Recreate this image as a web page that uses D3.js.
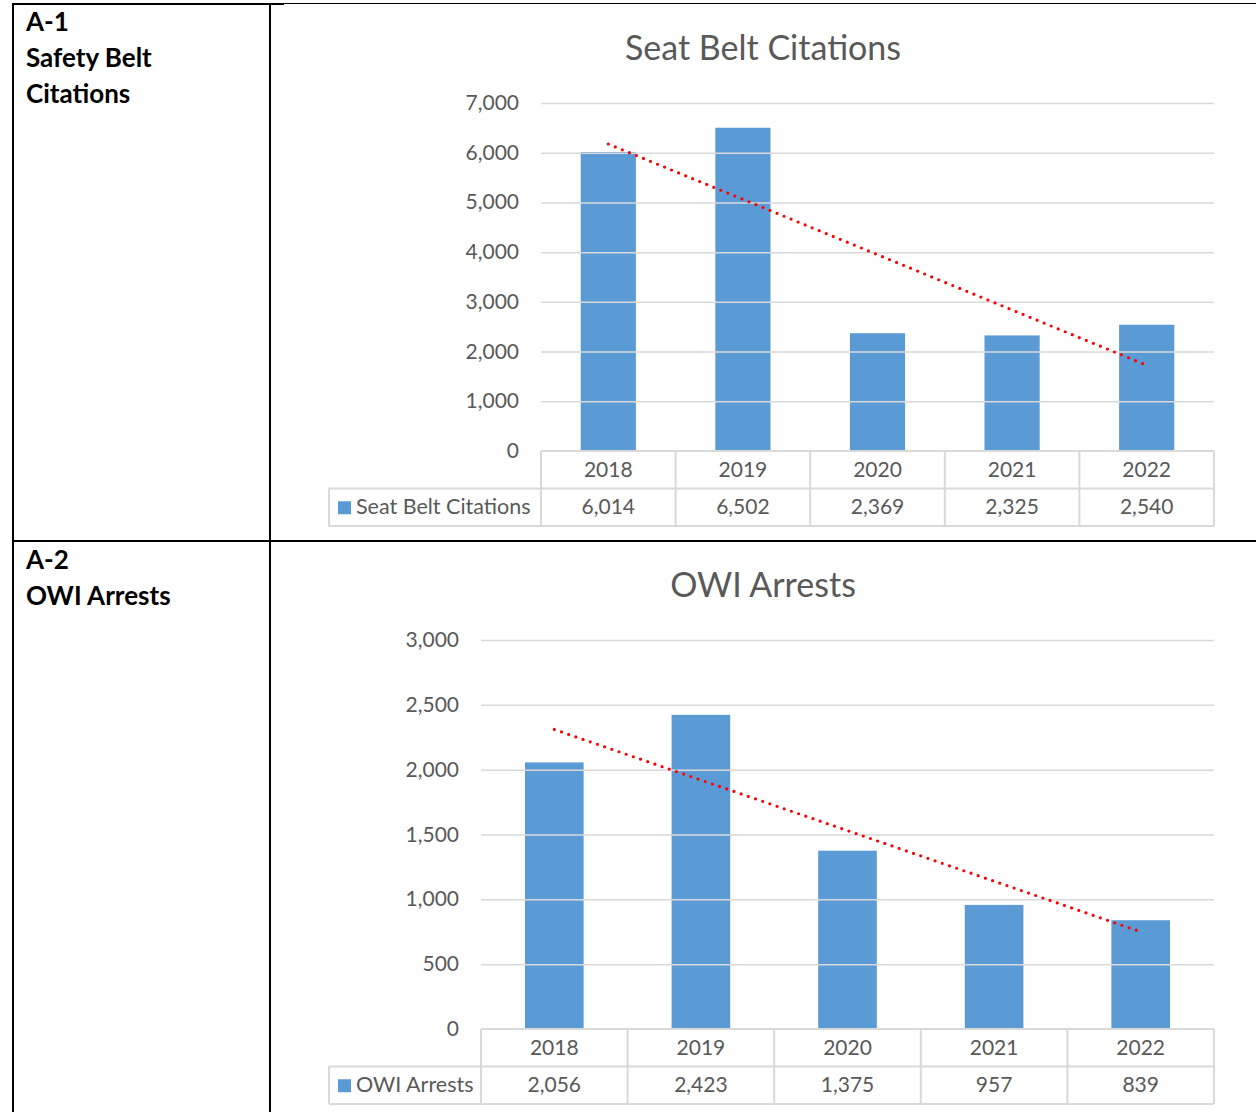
<!DOCTYPE html>
<html>
<head>
<meta charset="utf-8">
<script src="https://cdn.jsdelivr.net/npm/d3@7"></script>
<style>
  html, body { margin: 0; padding: 0; background: #fff; }
  svg { display: block; }
  text { font-family: Lato, "Open Sans", sans-serif; }
</style>
</head>
<body>
<svg id="chart" width="1256" height="1112"></svg>
<script>
// ---- data ----
const years = ["2018", "2019", "2020", "2021", "2022"];
const seatBeltCitations = [6014, 6502, 2369, 2325, 2540];
const owiArrests = [2056, 2423, 1375, 957, 839];
const seatBeltTicks = [0, 1000, 2000, 3000, 4000, 5000, 6000, 7000];
const owiTicks = [0, 500, 1000, 1500, 2000, 2500, 3000];
const rowLabels1 = ["A-1", "Safety Belt", "Citations"];
const rowLabels2 = ["A-2", "OWI Arrests"];

const svg = d3.select("#chart");
const fmt = d3.format(",");
const BAR = "#5b9bd5", GRID = "#d9d9d9", TXT = "#595959";
const FS = 21;

// ---- outer table lines ----
const lines = svg.append("g").attr("stroke", "#000");
lines.append("line").attr("x1", 12).attr("x2", 284).attr("y1", 4).attr("y2", 4).attr("stroke-width", 2);
lines.append("line").attr("x1", 284).attr("x2", 1256).attr("y1", 3.5).attr("y2", 3.5).attr("stroke-width", 1);
lines.append("line").attr("x1", 13).attr("x2", 13).attr("y1", 3).attr("y2", 1112).attr("stroke-width", 2);
lines.append("line").attr("x1", 270).attr("x2", 270).attr("y1", 3).attr("y2", 1112).attr("stroke-width", 2);
lines.append("line").attr("x1", 12).attr("x2", 1256).attr("y1", 541).attr("y2", 541).attr("stroke-width", 2);

function rowLabel(labels, y0) {
  svg.append("g").selectAll("text").data(labels).join("text")
    .attr("x", 26).attr("y", (d, i) => y0 + i * 36)
    .attr("font-size", 26).attr("font-weight", "bold").attr("fill", "#000")
    .text(d => d);
}
rowLabel(rowLabels1, 31);
rowLabel(rowLabels2, 569);

function drawChart(cfg) {
  const g = svg.append("g");
  const x = d3.scaleBand().domain(years).range([cfg.left, cfg.right]).paddingInner(0).paddingOuter(0);
  const y = d3.scaleLinear().domain([0, d3.max(cfg.ticks)]).range([cfg.bottom, cfg.top]);

  // title
  g.append("text").attr("x", 763).attr("y", cfg.titleY).attr("text-anchor", "middle")
    .attr("font-size", 34).attr("fill", TXT).text(cfg.title);

  // bars
  const bw = x.bandwidth() * cfg.barFrac;
  g.append("g").selectAll("rect").data(cfg.values).join("rect")
    .attr("x", (d, i) => x(years[i]) + (x.bandwidth() - bw) / 2)
    .attr("width", bw)
    .attr("y", d => y(d))
    .attr("height", d => cfg.bottom - y(d))
    .attr("fill", BAR);

  // gridlines (drawn over bars, as in reference)
  g.append("g").selectAll("line").data(cfg.ticks.filter(t => t > 0)).join("line")
    .attr("x1", cfg.left).attr("x2", cfg.right)
    .attr("y1", d => y(d) + 0.5).attr("y2", d => y(d) + 0.5)
    .attr("stroke", GRID).attr("stroke-width", 1.5);

  // y tick labels
  g.append("g").selectAll("text").data(cfg.ticks).join("text")
    .attr("x", cfg.left - 22).attr("y", d => y(d) + 7)
    .attr("text-anchor", "end").attr("font-size", FS).attr("fill", TXT)
    .text(d => fmt(d));

  // linear trendline
  const n = cfg.values.length;
  const xs = d3.range(1, n + 1);
  const mx = d3.mean(xs), my = d3.mean(cfg.values);
  const slope = d3.sum(xs, (xi, i) => (xi - mx) * (cfg.values[i] - my)) / d3.sum(xs, xi => (xi - mx) ** 2);
  const icpt = my - slope * mx;
  const cx = i => x(years[i]) + x.bandwidth() / 2;
  g.append("line")
    .attr("x1", cx(0)).attr("y1", y(icpt + slope * 1))
    .attr("x2", cx(n - 1)).attr("y2", y(icpt + slope * n))
    .attr("stroke", "#ff0000").attr("stroke-width", 3.2)
    .attr("stroke-linecap", "round").attr("stroke-dasharray", "0 7.6");

  // data table
  const r1 = cfg.bottom, r2 = cfg.bottom + cfg.rowH, r3 = cfg.bottom + 2 * cfg.rowH;
  const tg = g.append("g").attr("stroke", "#d9d9d9").attr("stroke-width", 2).attr("fill", "none");
  tg.append("line").attr("x1", cfg.left).attr("x2", cfg.right).attr("y1", r1).attr("y2", r1);
  tg.append("line").attr("x1", 329).attr("x2", cfg.right).attr("y1", r2).attr("y2", r2);
  tg.append("line").attr("x1", 329).attr("x2", cfg.right).attr("y1", r3).attr("y2", r3);
  tg.append("line").attr("x1", 329).attr("x2", 329).attr("y1", r2).attr("y2", r3);
  const edges = years.map(d => x(d)).concat([cfg.right]);
  tg.selectAll(".v").data(edges).join("line").attr("class", "v")
    .attr("x1", d => d).attr("x2", d => d).attr("y1", r1).attr("y2", r3);

  g.append("g").selectAll("text").data(years).join("text")
    .attr("x", d => x(d) + x.bandwidth() / 2).attr("y", r1 + cfg.rowH / 2 + 7)
    .attr("text-anchor", "middle").attr("font-size", FS).attr("fill", TXT).text(d => d);
  g.append("g").selectAll("text").data(cfg.values).join("text")
    .attr("x", (d, i) => cx(i)).attr("y", r2 + cfg.rowH / 2 + 7)
    .attr("text-anchor", "middle").attr("font-size", FS).attr("fill", TXT).text(d => fmt(d));

  // legend key
  g.append("rect").attr("x", 338).attr("y", r2 + cfg.rowH / 2 - 6).attr("width", 13).attr("height", 13).attr("fill", BAR);
  g.append("text").attr("x", 356).attr("y", r2 + cfg.rowH / 2 + 7)
    .attr("font-size", 21.5).attr("fill", TXT).text(cfg.title);
}

drawChart({
  title: "Seat Belt Citations", titleY: 60, values: seatBeltCitations, ticks: seatBeltTicks,
  left: 541, right: 1214, top: 103, bottom: 451, rowH: 37.5, barFrac: 0.41
});
drawChart({
  title: "OWI Arrests", titleY: 597, values: owiArrests, ticks: owiTicks,
  left: 481, right: 1214, top: 640, bottom: 1029, rowH: 37.5, barFrac: 0.40
});
</script>
</body>
</html>
